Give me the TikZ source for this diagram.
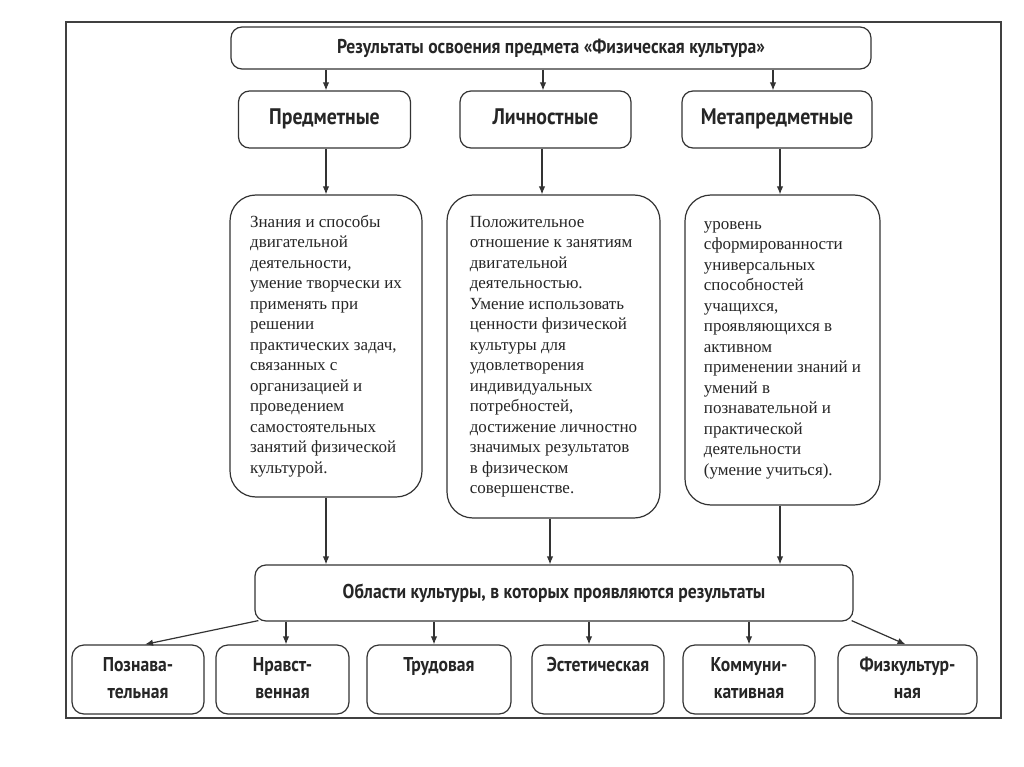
\documentclass[tikz,border=0pt]{standalone}
\usepackage{fontspec}
\setmainfont{Liberation Serif}
\newfontfamily\hdfont[FakeStretch=0.88]{PT Sans}
\usetikzlibrary{arrows.meta}
\begin{document}
\begin{tikzpicture}[x=1pt,y=-1pt,
  ln/.style={draw=black!80, line width=1.2pt},
  box/.style={ln, rounded corners=11pt, fill=white, inner sep=0pt},
  hd/.style={font=\hdfont\bfseries\fontsize{20}{27}\selectfont, text=black!85},
  hdbig/.style={font=\hdfont\bfseries\fontsize{22.5}{27}\selectfont, text=black!85,
    text height=16pt, text depth=5pt},
  body/.style={box, rounded corners=26pt, align=left, text=black!85,
    font=\fontsize{17}{20.5}\selectfont},
  rowbox/.style={box, hd, rounded corners=12pt, align=center, minimum height=69},
  arr/.style={ln, -{Latex[length=8pt,width=6.5pt]}}]
\useasboundingbox (0,0) rectangle (1024,767);
\draw[draw=black!75, line width=1.4pt] (66,22) rectangle (1001,718);
% guides
\coordinate (g1) at (326,0);
\coordinate (g2) at (543,0);
\coordinate (g3) at (773,0);
\coordinate (g4) at (542,0);
\coordinate (g5) at (780,0);
\coordinate (g6) at (550,0);
\coordinate (g7) at (286,0);
\coordinate (g8) at (434,0);
\coordinate (g9) at (589,0);
\coordinate (g10) at (749,0);
% nodes
\node[box,hd,minimum width=640,minimum height=42] (top) at (551,48)
  {Результаты освоения предмета «Физическая культура»};
\node[box,hdbig,minimum width=172,minimum height=57] (hA) at (324.5,119.5) {Предметные};
\node[box,hdbig,minimum width=171,minimum height=57] (hB) at (545.5,119.5) {Личностные};
\node[box,hdbig,minimum width=190,minimum height=57] (hC) at (777,119.5) {Метапредметные};
\node[body,minimum width=192,minimum height=302] (tA) at (326,346)
  {Знания и способы\\двигательной\\деятельности,\\умение творчески их\\применять при\\решении\\практических задач,\\связанных с\\организацией и\\проведением\\самостоятельных\\занятий физической\\культурой.};
\node[body,minimum width=213,minimum height=323] (tB) at (553.5,356.5)
  {Положительное\\отношение к занятиям\\двигательной\\деятельностью.\\Умение использовать\\ценности физической\\культуры для\\удовлетворения\\индивидуальных\\потребностей,\\достижение личностно\\значимых результатов\\в физическом\\совершенстве.};
\node[body,minimum width=195,minimum height=310] (tC) at (782.5,350)
  {уровень\\сформированности\\универсальных\\способностей\\учащихся,\\проявляющихся в\\активном\\применении знаний и\\умений в\\познавательной и\\практической\\деятельности\\(умение учиться).};
\node[box,hd,minimum width=598,minimum height=56] (bot) at (554,593)
  {Области культуры, в которых проявляются результаты};
\node[rowbox,minimum width=132] (r1) at (138,679.5) {\strut Познава-\\\strut тельная};
\node[rowbox,minimum width=133] (r2) at (282.5,679.5) {\strut Нравст-\\\strut венная};
\node[rowbox,minimum width=144] (r3) at (439,679.5) {\strut Трудовая\\\strut};
\node[rowbox,minimum width=132] (r4) at (598,679.5) {\strut Эстетическая\\\strut};
\node[rowbox,minimum width=132] (r5) at (749,679.5) {\strut Коммуни-\\\strut кативная};
\node[rowbox,minimum width=139] (r6) at (907.5,679.5) {\strut Физкультур-\\\strut ная};
% connectors
\draw[arr] (top.south -| g1) -- (hA.north -| g1);
\draw[arr] (top.south -| g2) -- (hB.north -| g2);
\draw[arr] (top.south -| g3) -- (hC.north -| g3);
\draw[arr] (hA.south -| g1) -- (tA.north -| g1);
\draw[arr] (hB.south -| g4) -- (tB.north -| g4);
\draw[arr] (hC.south -| g5) -- (tC.north -| g5);
\draw[arr] (tA.south -| g1) -- (bot.north -| g1);
\draw[arr] (tB.south -| g6) -- (bot.north -| g6);
\draw[arr] (tC.south -| g5) -- (bot.north -| g5);
\draw[arr] ([xshift=4pt,yshift=1pt]bot.south west) -- ([xshift=7pt]r1.north);
\draw[arr] (bot.south -| g7) -- (r2.north -| g7);
\draw[arr] (bot.south -| g8) -- (r3.north -| g8);
\draw[arr] (bot.south -| g9) -- (r4.north -| g9);
\draw[arr] (bot.south -| g10) -- (r5.north -| g10);
\draw[arr] ([xshift=-2pt,yshift=1pt]bot.south east) -- ([xshift=-2pt]r6.north);
\end{tikzpicture}
\end{document}
